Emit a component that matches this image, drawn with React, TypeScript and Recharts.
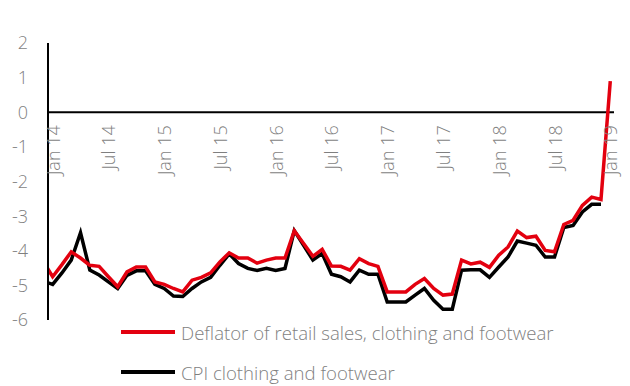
import { Legend, Line, LineChart, ReferenceDot, ReferenceLine, XAxis, YAxis } from "recharts";

// monthly, Dec 13 .. Jan 19 (Dec 13 only feeds the clipped start of the lines)
const firstMonth = -1;
const deflator = [
  -4.31, -4.75, -4.4, -4.03, -4.21, -4.42, -4.45, -4.75, -5.04, -4.61, -4.47, -4.47, -4.9,
  -4.97, -5.09, -5.19, -4.85, -4.77, -4.64, -4.32, -4.06, -4.21, -4.21, -4.36, -4.27,
  -4.21, -4.21, -3.42, -3.79, -4.16, -3.96, -4.44, -4.45, -4.56, -4.23, -4.37, -4.45,
  -5.19, -5.19, -5.19, -4.97, -4.8, -5.09, -5.28, -5.25, -4.27, -4.38, -4.33, -4.48,
  -4.13, -3.89, -3.43, -3.62, -3.58, -3.99, -4.03, -3.24, -3.12, -2.69, -2.45, -2.52, 0.9,
];
const cpi = [
  -4.88, -4.97, -4.64, -4.27, -3.48, -4.56, -4.7, -4.9, -5.09, -4.71, -4.58, -4.58, -4.97,
  -5.09, -5.31, -5.32, -5.09, -4.9, -4.77, -4.42, -4.09, -4.37, -4.51, -4.57, -4.51,
  -4.57, -4.51, -3.42, -3.84, -4.27, -4.08, -4.68, -4.75, -4.9, -4.56, -4.68, -4.68,
  -5.48, -5.48, -5.48, -5.28, -5.09, -5.43, -5.69, -5.69, -4.56, -4.55, -4.55, -4.77,
  -4.47, -4.18, -3.72, -3.78, -3.84, -4.18, -4.18, -3.33, -3.27, -2.88, -2.66, -2.66,
];
const tickLabels = ["Jan 14", "Jul 14", "Jan 15", "Jul 15", "Jan 16", "Jul 16", "Jan 17", "Jul 17", "Jan 18", "Jul 18", "Jan 19"];
const yTicks = [-6, -5, -4, -3, -2, -1, 0, 1, 2];

const RED = "#e3000f";
const GREY = "#7f7f7f";
const FONT = "'Open Sans', sans-serif";

const data = deflator.map((value, i) => ({
  month: firstMonth + i,
  deflator: value,
  cpi: i < cpi.length ? cpi[i] : null,
}));

function renderXLabel(props: any) {
  const vb = props.viewBox || {};
  const cx = vb.x + (vb.width || 0) / 2 + 7;
  const cy = vb.y + (vb.height || 0) / 2 + 13;
  return (
    <text x={cx} y={cy} transform={`rotate(-90, ${cx}, ${cy})`} textAnchor="end" fill={GREY} fontSize={18} fontWeight={300} fontFamily={FONT}>
      {props.value}
    </text>
  );
}

function LegendBox() {
  const rows = [
    { color: RED, label: "Deflator of retail sales, clothing and footwear" },
    { color: "#000", label: "CPI clothing and footwear" },
  ];
  return (
    <div>
      {rows.map((row) => (
        <div key={row.label} style={{ display: "flex", alignItems: "center", height: 40 }}>
          <svg width={54} height={4} style={{ marginRight: 6 }}>
            <line x1={0} x2={54} y1={2} y2={2} stroke={row.color} strokeWidth={4} />
          </svg>
          <span style={{ color: GREY, fontSize: 18.6, fontWeight: 300, fontFamily: FONT, whiteSpace: "nowrap" }}>{row.label}</span>
        </div>
      ))}
    </div>
  );
}

export default function App() {
  return (
    <div style={{ position: "absolute", left: 0, top: 0, background: "#fff" }}>
      <LineChart width={630} height={386} data={data} margin={{ top: 43, right: 16, bottom: 66, left: 0 }}>
        <XAxis dataKey="month" type="number" domain={[-0.5, 60.4]} allowDataOverflow hide />
        <YAxis
          domain={[-6, 2]}
          ticks={yTicks}
          width={48}
          tickLine={false}
          tickSize={0}
          tickMargin={20}
          axisLine={{ stroke: "#000", strokeWidth: 2 }}
          tick={{ fill: GREY, fontSize: 18, fontWeight: 300, fontFamily: FONT }}
        />
        <ReferenceLine y={0} stroke="#000" strokeWidth={2} />
        {tickLabels.map((t, k) => (
          <ReferenceDot key={t} x={k * 6} y={0} r={1} fill="none" stroke="none" label={{ value: t, content: renderXLabel }} />
        ))}
        <Line dataKey="cpi" type="linear" stroke="#000" strokeWidth={3.5} dot={false} isAnimationActive={false} connectNulls={false} />
        <Line dataKey="deflator" type="linear" stroke={RED} strokeWidth={3.5} dot={false} isAnimationActive={false} />
        <Legend layout="vertical" align="center" verticalAlign="middle" content={() => <LegendBox />} wrapperStyle={{ left: 121, top: 312, width: 480 }} />
      </LineChart>
    </div>
  );
}
